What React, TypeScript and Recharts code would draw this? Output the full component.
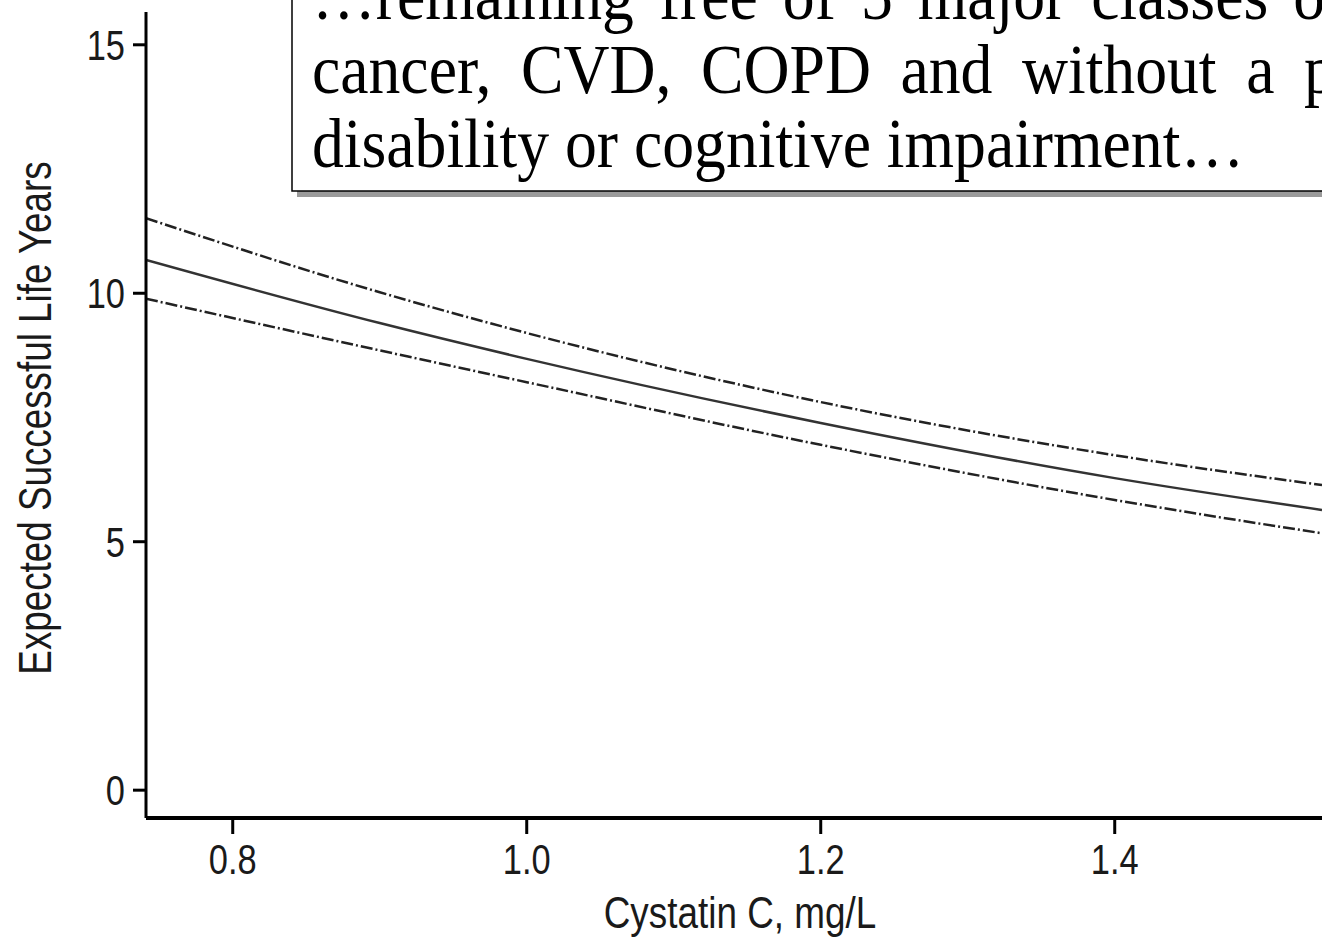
import React from 'react';
import { LineChart, Line, XAxis, YAxis } from 'recharts';

const cystatin = [0.741, 0.9, 1.0, 1.2, 1.4, 1.541];
const upperCI = [11.51, 10.02, 9.2, 7.81, 6.74, 6.14];
const estimate = [10.67, 9.4, 8.68, 7.39, 6.28, 5.64];
const lowerCI = [9.89, 8.85, 8.21, 6.95, 5.84, 5.17];
const xTicks = [0.8, 1.0, 1.2, 1.4];
const yTicks = [0, 5, 10, 15];
const boxLines = [
  '…remaining free of 5 major classes of disease:',
  'cancer, CVD, COPD and without a physical',
  'disability or cognitive impairment…',
];
const xTitle = 'Cystatin C, mg/L';
const yTitle = 'Expected Successful Life Years';

const data = cystatin.map((c, i) => ({
  c,
  upper: upperCI[i],
  est: estimate[i],
  lower: lowerCI[i],
}));

const SANS = '"Liberation Sans", Arial, sans-serif';
const SERIF = '"Liberation Serif", "Times New Roman", serif';
const NARROW = 0.82;

const XTick = (props: any) => {
  const { x, y, payload } = props;
  return (
    <g transform={`translate(${x}, ${y}) scale(${NARROW}, 1)`}>
      <text x={0} y={0} dy="0.71em" textAnchor="middle" fontFamily={SANS} fontSize={42} fill="#1a1a1a">
        {Number(payload.value).toFixed(1)}
      </text>
    </g>
  );
};

const YTick = (props: any) => {
  const { x, y, payload } = props;
  return (
    <g transform={`translate(${x}, ${y}) scale(${NARROW}, 1)`}>
      <text x={0} y={0} dy="0.355em" textAnchor="end" fontFamily={SANS} fontSize={42} fill="#1a1a1a">
        {payload.value}
      </text>
    </g>
  );
};

const YLabel = () => {
  const cx = 51;
  const cy = 418;
  return (
    <g transform={`translate(${cx}, ${cy}) rotate(-90) scale(0.8, 1)`}>
      <text x={0} y={0} textAnchor="middle" fontFamily={SANS} fontSize={46} fill="#1a1a1a">
        {yTitle}
      </text>
    </g>
  );
};

const XLabel = () => {
  const cx = 740;
  const cy = 928;
  return (
    <g transform={`translate(${cx}, ${cy}) scale(${NARROW}, 1)`}>
      <text x={0} y={0} textAnchor="middle" fontFamily={SANS} fontSize={45} fill="#1a1a1a">
        {xTitle}
      </text>
    </g>
  );
};

export default function App() {
  return (
    <div style={{ position: 'absolute', left: 0, top: 0, width: 1322, height: 938, overflow: 'hidden', background: '#fff' }}>
      <LineChart width={1322} height={938} data={data} margin={{ top: 12, right: 0, bottom: 0, left: 0 }}>
        <XAxis
          dataKey="c"
          type="number"
          domain={[0.741, 1.541]}
          allowDataOverflow
          ticks={xTicks}
          height={120}
          tickSize={16}
          tickMargin={10}
          axisLine={{ stroke: '#000', strokeWidth: 4 }}
          tickLine={{ stroke: '#000', strokeWidth: 3 }}
          tick={<XTick />}
          label={<XLabel />}
        />
        <YAxis
          type="number"
          domain={[-0.56, 15.66]}
          allowDataOverflow
          ticks={yTicks}
          width={146}
          tickSize={13}
          tickMargin={8}
          axisLine={{ stroke: '#000', strokeWidth: 3 }}
          tickLine={{ stroke: '#000', strokeWidth: 3 }}
          tick={<YTick />}
          label={<YLabel />}
        />
        <Line dataKey="upper" type="monotone" stroke="#222" strokeWidth={2.5} strokeDasharray="12 3 2 3" dot={false} isAnimationActive={false} />
        <Line dataKey="est" type="monotone" stroke="#333" strokeWidth={2.5} dot={false} isAnimationActive={false} />
        <Line dataKey="lower" type="monotone" stroke="#222" strokeWidth={2.5} strokeDasharray="12 3 2 3" dot={false} isAnimationActive={false} />
      </LineChart>
      <svg width={1322} height={938} style={{ position: 'absolute', left: 0, top: 0, pointerEvents: 'none' }}>
        <rect x={297} y={-15} width={1200} height={212} fill="#9a9a9a" />
        <rect x={292} y={-20} width={1200} height={211} fill="#fff" stroke="#000" strokeWidth={1.5} />
        <g transform="translate(312,0) scale(0.91,1)" fontFamily={SERIF} fontSize={70} fill="#000">
          <text x={0} y={19} style={{ wordSpacing: '10px' }}>{boxLines[0]}</text>
          <text x={0} y={93} style={{ wordSpacing: '15px' }}>{boxLines[1]}</text>
          <text x={0} y={167}>{boxLines[2]}</text>
        </g>
      </svg>
    </div>
  );
}
